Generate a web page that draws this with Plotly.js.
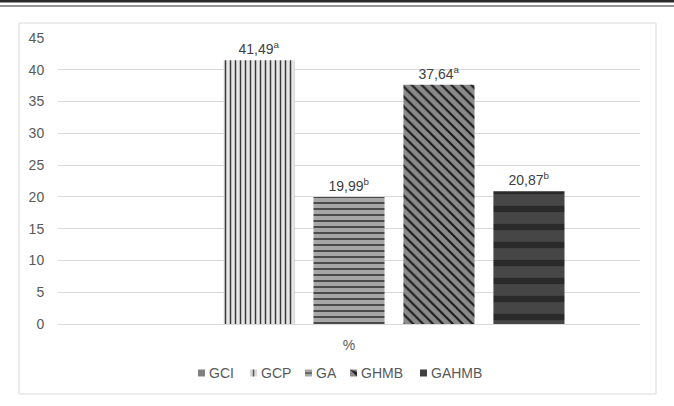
<!DOCTYPE html>
<html>
<head>
<meta charset="utf-8">
<script src="https://cdn.plot.ly/plotly-3.0.1.min.js"></script>
<style>
  html, body { margin: 0; padding: 0; background: #fff; }
  #myGraph { width: 674px; height: 406px; }
</style>
</head>
<body>
<div id="myGraph"></div>
<script>
"use strict";

// data
var category = ['%'];
var groups = ['GCI', 'GCP', 'GA', 'GHMB', 'GAHMB'];
var values = [null, 41.49, 19.99, 37.64, 20.87];
var letters = ['', 'a', 'b', 'a', 'b'];

// bar fill styles (one per group)
var fills = [
    {color: '#808080', pattern: {shape: ''}},
    {color: '#e6e6e6', pattern: {shape: '|', fgcolor: '#3a3a3a', bgcolor: '#e6e6e6', size: 5, solidity: 0.3, fillmode: 'replace'}},
    {color: '#a6a6a6', pattern: {shape: '-', fgcolor: '#404040', bgcolor: '#a6a6a6', size: 6, solidity: 0.3, fillmode: 'replace'}},
    {color: '#8c8c8c', pattern: {shape: '\\', fgcolor: '#1a1a1a', bgcolor: '#8a8a8a', size: 7, solidity: 0.3, fillmode: 'replace'}},
    {color: '#404040', pattern: {shape: '-', fgcolor: '#2a2a2a', bgcolor: '#464646', size: 18, solidity: 0.35, fillmode: 'replace'}}
];

// build traces
var data = [];
for (var i = 0; i < groups.length; i++) {
    var lbl = '';
    if (values[i] !== null) {
        lbl = values[i].toFixed(2).replace('.', ',') + '<sup>' + letters[i] + '</sup>';
    }
    data.push({
        type: 'bar',
        name: groups[i],
        x: category,
        y: [values[i]],
        text: [lbl],
        textposition: 'outside',
        constraintext: 'none',
        textfont: {family: 'Liberation Sans, Arial, sans-serif', size: 14, color: '#404040'},
        cliponaxis: false,
        hoverinfo: 'none',
        marker: {color: fills[i].color, pattern: fills[i].pattern, line: {width: 0}}
    });
}

// plot area in pixels: x 58..640, y 38..324
var W = 582, H = 286;
function px(x) { return (x - 58) / W; }
function py(y) { return (324 - y) / H; }

var shapes = [
    // chart border
    {type: 'rect', xref: 'paper', yref: 'paper',
     x0: px(19), x1: px(656), y0: py(394), y1: py(23),
     line: {color: '#d9d9d9', width: 1}, layer: 'below'},
    // page rules at the top
    {type: 'line', xref: 'paper', yref: 'paper',
     x0: px(0), x1: px(674), y0: py(1.2), y1: py(1.2),
     line: {color: '#2a2a2a', width: 2.5}},
    {type: 'line', xref: 'paper', yref: 'paper',
     x0: px(0), x1: px(674), y0: py(6), y1: py(6),
     line: {color: '#2a2a2a', width: 1}}
];
var annotations = [];

// hand-made legend (small keys like the original)
var legX = [198, 250, 305, 350, 420];
var legY = 373;
var keyBg = ['#808080', '#d9d9d9', '#a6a6a6', '#8c8c8c', '#404040'];
for (var k = 0; k < groups.length; k++) {
    var x0 = legX[k], x1 = legX[k] + 7;
    shapes.push({type: 'rect', xref: 'paper', yref: 'paper',
                 x0: px(x0), x1: px(x1), y0: py(legY + 3.5), y1: py(legY - 3.5),
                 fillcolor: keyBg[k], line: {width: 0}});
    if (k === 1) {
        shapes.push({type: 'line', xref: 'paper', yref: 'paper',
                     x0: px(x0 + 3.5), x1: px(x0 + 3.5), y0: py(legY + 3.5), y1: py(legY - 3.5),
                     line: {color: '#555555', width: 1.5}});
    } else if (k === 2) {
        shapes.push({type: 'line', xref: 'paper', yref: 'paper',
                     x0: px(x0), x1: px(x1), y0: py(legY), y1: py(legY),
                     line: {color: '#555555', width: 1.5}});
    } else if (k === 3) {
        shapes.push({type: 'path', xref: 'paper', yref: 'paper',
                     path: 'M ' + px(x0) + ' ' + py(legY - 3.5) + ' L ' + px(x1) + ' ' + py(legY + 3.5) +
                           ' L ' + px(x1) + ' ' + py(legY - 1) + ' Z',
                     fillcolor: '#262626', line: {width: 0}});
    }
    annotations.push({xref: 'paper', yref: 'paper', x: px(x1 + 2), y: py(legY),
                      xanchor: 'left', yanchor: 'middle', showarrow: false,
                      text: groups[k],
                      font: {size: 14, color: '#595959'}});
}

var layout = {
    width: 674,
    height: 406,
    margin: {l: 58, r: 34, t: 38, b: 82},
    paper_bgcolor: '#ffffff',
    plot_bgcolor: '#ffffff',
    font: {family: 'Liberation Sans, Arial, sans-serif', size: 13, color: '#595959'},
    barmode: 'group',
    bargap: 0.227,
    bargroupgap: 0.21,
    showlegend: false,
    xaxis: {
        type: 'category',
        showgrid: false,
        zeroline: false,
        showline: false,
        ticks: 'outside', ticklen: 8, tickcolor: 'rgba(0,0,0,0)',
        tickfont: {size: 14, color: '#595959'}
    },
    yaxis: {
        range: [0, 45],
        dtick: 5,
        showgrid: true,
        gridcolor: '#d9d9d9',
        gridwidth: 1,
        zeroline: true,
        zerolinecolor: '#d9d9d9',
        zerolinewidth: 1,
        showline: false,
        ticks: 'outside', ticklen: 10, tickcolor: 'rgba(0,0,0,0)',
        tickfont: {size: 14, color: '#595959'}
    },
    shapes: shapes,
    annotations: annotations
};

Plotly.newPlot('myGraph', data, layout, {displayModeBar: false, staticPlot: true});
</script>
</body>
</html>
